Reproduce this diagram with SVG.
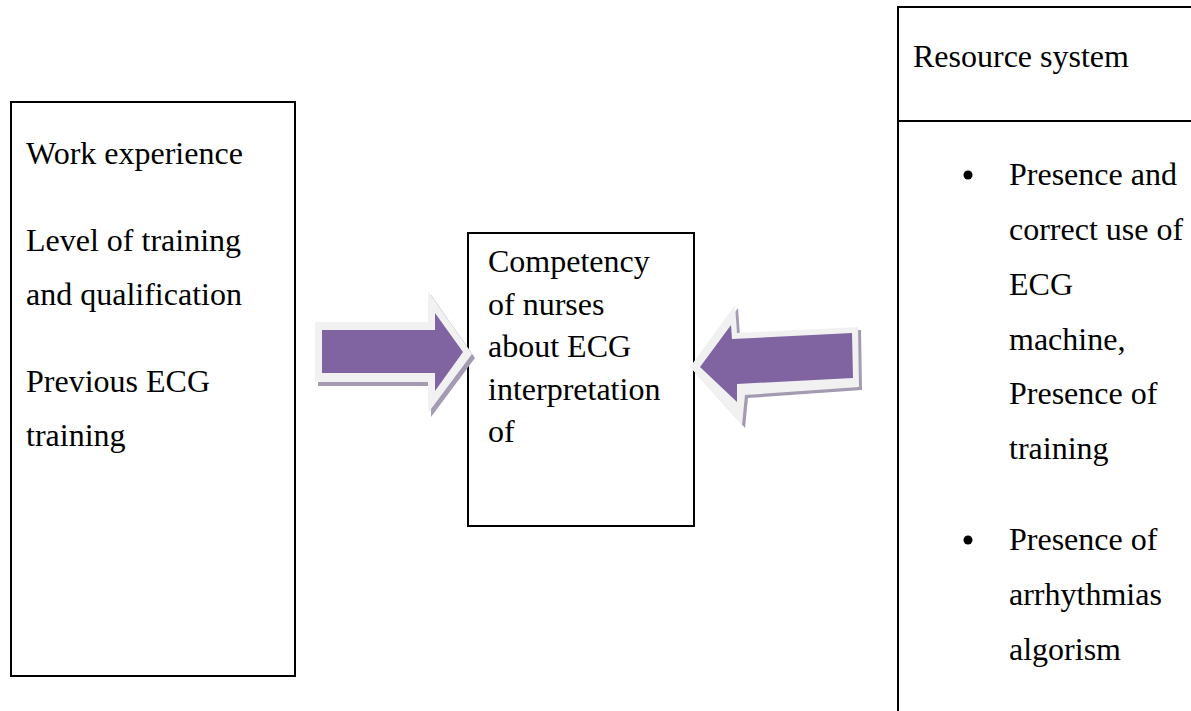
<svg xmlns="http://www.w3.org/2000/svg" width="1191" height="711" viewBox="0 0 1191 711">
<style>
.box{fill:#fff;stroke:#000;stroke-width:2}
.t{font-family:"Liberation Serif","Times New Roman",serif;font-size:32px;fill:#000}
.sh{fill:#a49bb2}
.rim{fill:#f1f1f1}
.ar{fill:#8064a2}
</style>
<rect width="1191" height="711" fill="#fff"/>
<g id="left-box">
<rect class="box" x="11" y="102" width="284" height="574"/>
<text class="t" x="26" y="164">Work experience</text>
<text class="t" x="26" y="251">Level of training</text>
<text class="t" x="26" y="305">and qualification</text>
<text class="t" x="26" y="392">Previous ECG</text>
<text class="t" x="26" y="446">training</text>
</g>
<g id="center-box">
<rect class="box" x="468" y="233" width="226" height="293"/>
<text class="t" x="488" y="272">Competency</text>
<text class="t" x="488" y="315">of nurses</text>
<text class="t" x="488" y="357">about ECG</text>
<text class="t" x="488" y="400">interpretation</text>
<text class="t" x="488" y="442">of</text>
</g>
<g id="right-box">
<rect class="box" x="898" y="7" width="300" height="710"/>
<line x1="898" y1="121" x2="1191" y2="121" stroke="#000" stroke-width="2"/>
<text class="t" x="913" y="67">Resource system</text>
<circle cx="968" cy="175" r="4.5" fill="#000"/>
<text class="t" x="1009" y="185">Presence and</text>
<text class="t" x="1009" y="240">correct use of</text>
<text class="t" x="1009" y="295">ECG</text>
<text class="t" x="1009" y="350">machine,</text>
<text class="t" x="1009" y="404">Presence of</text>
<text class="t" x="1009" y="459">training</text>
<circle cx="968" cy="540" r="4.5" fill="#000"/>
<text class="t" x="1009" y="550">Presence of</text>
<text class="t" x="1009" y="605">arrhythmias</text>
<text class="t" x="1009" y="660">algorism</text>
</g>
<g id="connectors">
<g id="arrow-left">
<polygon class="sh" points="318,326 431,326 431,295 475,358 431,417 431,386 318,386"/>
<polygon class="rim" points="315,322 428,322 428,291 472,354 428,413 428,382 315,382"/>
<polygon class="ar" points="322,330 435,330 435,313 463,352 435,391 435,373 322,373"/>
</g>
<g id="arrow-right">
<polygon class="sh" points="693,370 738,308 740,336 861,330 862,390 748,398 745,428"/>
<polygon class="rim" points="690,367 735,305 737,333 858,327 859,387 745,395 742,425"/>
<polygon class="ar" points="700,367 731,325 732,339 852,333 853,378 737,384 737,402"/>
</g>
</g>
</svg>
